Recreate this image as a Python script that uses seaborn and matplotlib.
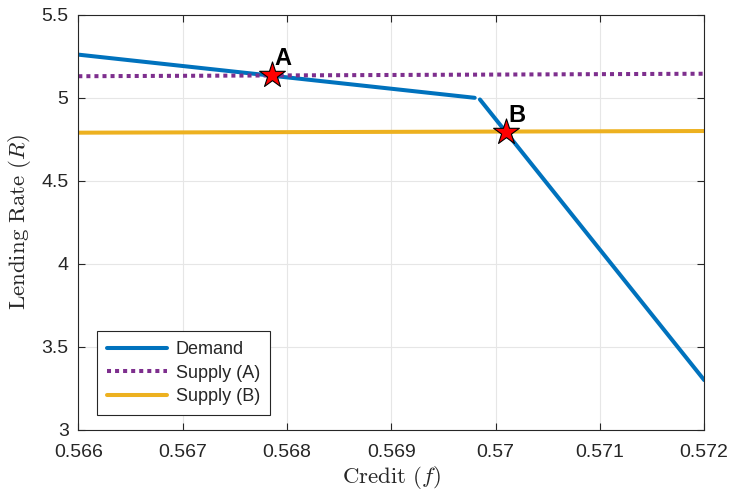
import numpy as np
import pandas as pd
import seaborn as sns
import matplotlib.pyplot as plt

# demand curve (two pieces, with a kink near f=0.5698)
demand_x1 = [0.566, 0.56980]
demand_y1 = [5.26, 5.00]
demand_x2 = [0.56985, 0.572]
demand_y2 = [4.99, 3.30]

supply_a_x = [0.566, 0.572]
supply_a_y = [5.13, 5.145]
supply_b_x = [0.566, 0.572]
supply_b_y = [4.79, 4.80]

eq_labels = ["A", "B"]
eq_x = [0.56786, 0.57010]
eq_y = [5.135, 4.795]

x_ticks = [0.566, 0.567, 0.568, 0.569, 0.570, 0.571, 0.572]
x_tick_labels = ["0.566", "0.567", "0.568", "0.569", "0.57", "0.571", "0.572"]
y_ticks = [3, 3.5, 4, 4.5, 5, 5.5]
y_tick_labels = ["3", "3.5", "4", "4.5", "5", "5.5"]


def main():
    sns.set_style("white")
    plt.rcParams["font.family"] = ["Liberation Sans", "DejaVu Sans"]
    plt.rcParams["mathtext.fontset"] = "cm"

    blue = "#0072BD"
    purple = "#7E2F8E"
    yellow = "#EDB120"

    fig, ax = plt.subplots(figsize=(7.32, 4.93), dpi=100)
    fig.subplots_adjust(left=0.107, right=0.962, top=0.97, bottom=0.128)

    sns.lineplot(x=demand_x1, y=demand_y1, color=blue, lw=2.9, ax=ax,
                 label="Demand")
    sns.lineplot(x=demand_x2, y=demand_y2, color=blue, lw=2.9, ax=ax)
    sns.lineplot(x=supply_a_x, y=supply_a_y, color=purple, lw=2.9, ax=ax,
                 label="Supply (A)")
    ax.lines[-1].set_dashes([1.0, 1.0])
    sns.lineplot(x=supply_b_x, y=supply_b_y, color=yellow, lw=2.9, ax=ax,
                 label="Supply (B)")

    sns.scatterplot(x=eq_x, y=eq_y, marker="*", s=380, color="red",
                    edgecolor="black", linewidth=0.8, ax=ax, zorder=5,
                    legend=False)
    for lab, xx, yy in zip(eq_labels, eq_x, eq_y):
        ax.text(xx + 0.00002, yy + 0.03, lab, fontsize=17,
                fontweight="bold", ha="left", va="bottom", zorder=6,
                color="black")

    ax.set_xlim(0.566, 0.572)
    ax.set_ylim(3, 5.5)
    ax.set_xticks(x_ticks)
    ax.set_xticklabels(x_tick_labels)
    ax.set_yticks(y_ticks)
    ax.set_yticklabels(y_tick_labels)
    ax.tick_params(labelsize=14, direction="in", length=5, color="#262626",
                   top=True, right=True, bottom=True, left=True,
                   labelcolor="#262626")
    ax.tick_params(axis="x", pad=10)
    ax.tick_params(axis="y", pad=7)
    ax.grid(True, color="#e6e6e6", lw=0.8)
    for s in ax.spines.values():
        s.set_color("#262626")
        s.set_linewidth(0.8)

    ax.set_xlabel(r"$\mathrm{Credit}\ (f)$", fontsize=16.5, color="#262626",
                  labelpad=2)
    ax.set_ylabel(r"$\mathrm{Lending\ Rate}\ (R)$", fontsize=16.5,
                  color="#262626", labelpad=6)

    leg = ax.legend(loc="lower left", bbox_to_anchor=(0.03, 0.036),
                    borderaxespad=0, fontsize=13, frameon=True,
                    fancybox=False, edgecolor="#262626", handlelength=3.3,
                    borderpad=0.55, labelspacing=0.35, handletextpad=0.5)
    leg.get_frame().set_linewidth(0.8)
    leg.get_frame().set_alpha(1)

    plt.savefig("out.png", dpi=100)


if __name__ == "__main__":
    main()
